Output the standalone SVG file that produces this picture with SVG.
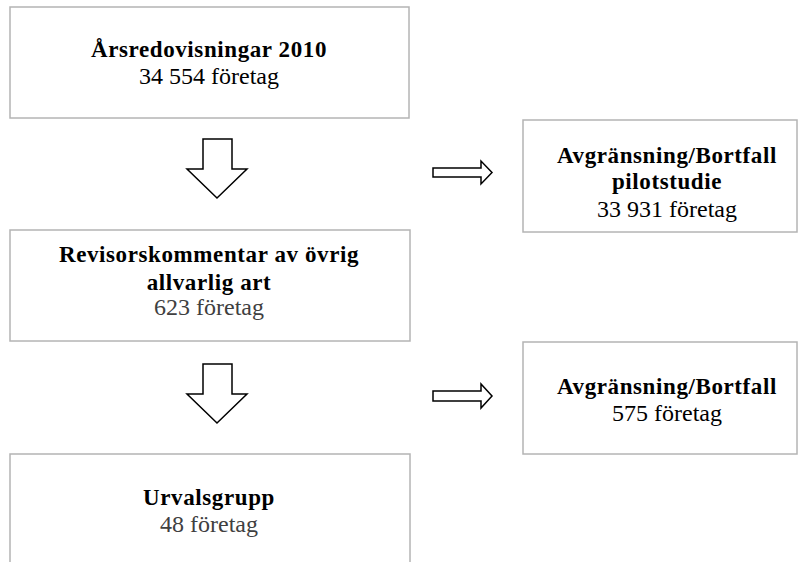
<svg xmlns="http://www.w3.org/2000/svg" width="800" height="562" viewBox="0 0 800 562">
<style>
.box{fill:#fff;stroke:#b4b4b4;stroke-width:1.5}
.arr{fill:#fff;stroke:#000;stroke-width:1.5;stroke-linejoin:miter}
text{font-family:"Liberation Serif","Times New Roman",serif;font-size:24px;text-anchor:middle;fill:#000}
.b{font-size:23px;font-weight:bold;letter-spacing:0.6px}
.g{fill:#404040}
</style>
<rect width="800" height="562" fill="#fff"/>
<g id="node-arsredovisningar">
<rect class="box" x="10" y="7" width="399" height="111"/>
<text class="b" x="209" y="57">Årsredovisningar 2010</text>
<text x="209" y="84">34 554 företag</text>
</g>
<g id="node-bortfall-pilot">
<rect class="box" x="523" y="120" width="274" height="112"/>
<text class="b" x="667" y="163">Avgränsning/Bortfall</text>
<text class="b" x="667" y="189">pilotstudie</text>
<text x="667" y="217">33 931 företag</text>
</g>
<g id="node-revisorskommentar">
<rect class="box" x="10" y="230" width="400" height="111"/>
<text class="b" x="209" y="262">Revisorskommentar av övrig</text>
<text class="b" x="209" y="290">allvarlig art</text>
<text class="g" x="209" y="315">623 företag</text>
</g>
<g id="node-bortfall">
<rect class="box" x="523" y="342" width="274" height="112"/>
<text class="b" x="667" y="394">Avgränsning/Bortfall</text>
<text x="667" y="421">575 företag</text>
</g>
<g id="node-urvalsgrupp">
<rect class="box" x="10" y="454" width="400" height="120"/>
<text class="b" x="209" y="505">Urvalsgrupp</text>
<text class="g" x="209" y="532">48 företag</text>
</g>
<g id="connectors">
<path class="arr" d="M203,139 H232 V169 H247 L217,198 L187,169 H203 Z"/>
<path class="arr" d="M203,364 H232 V394 H247 L217,423 L187,394 H203 Z"/>
<path class="arr" d="M433,168 H481 V161 L492,172.5 L481,184 V177 H433 Z"/>
<path class="arr" d="M433,391 H481 V384 L492,396 L481,408 V401 H433 Z"/>
</g>
</svg>
